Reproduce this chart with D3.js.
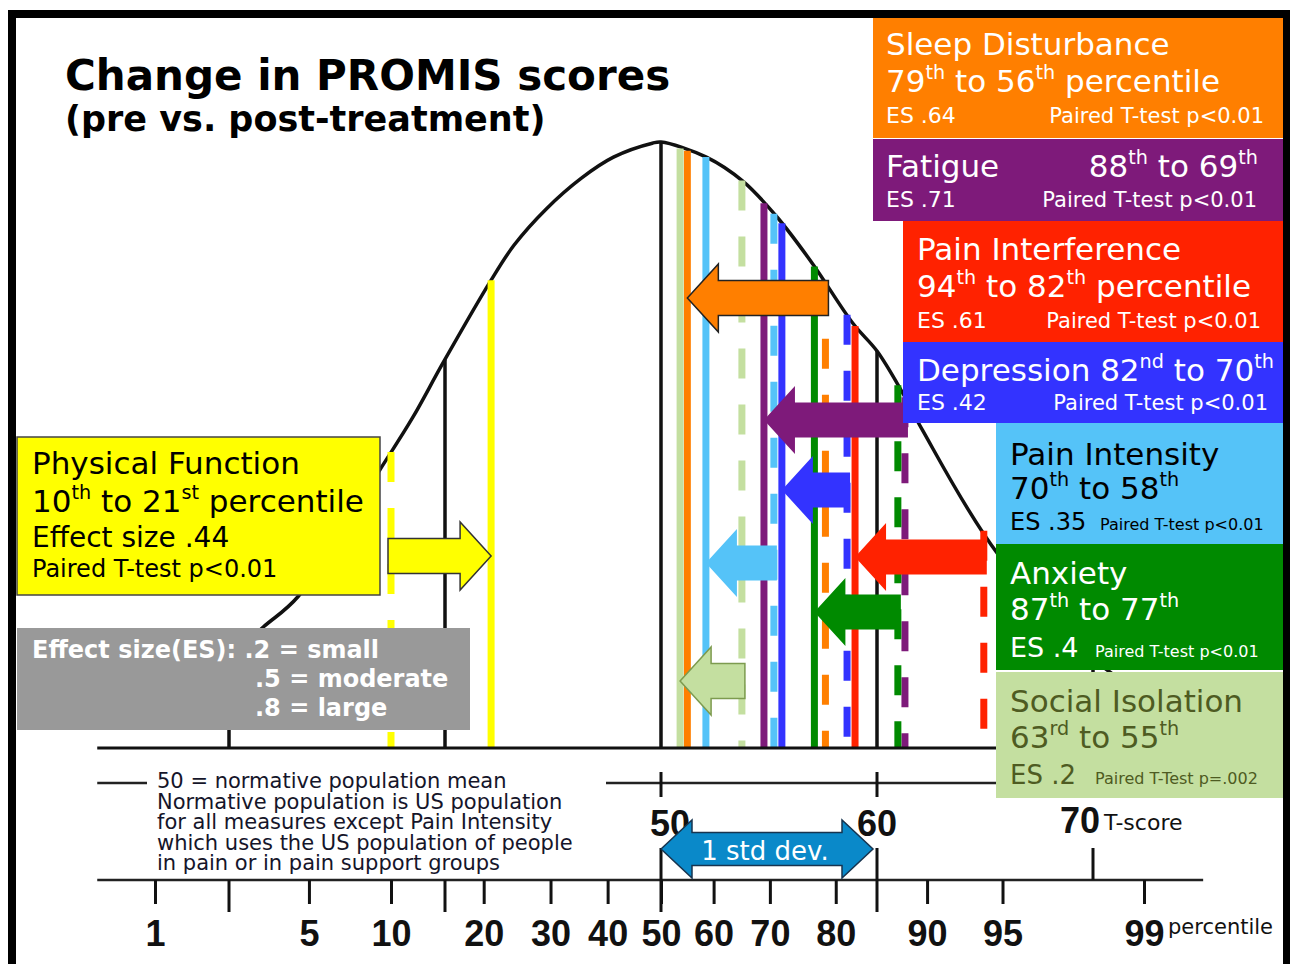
<!DOCTYPE html>
<html>
<head>
<meta charset="utf-8">
<script src="https://cdn.jsdelivr.net/npm/d3@7"></script>
<style>
  body { margin: 0; background: #fff; }
  svg { display: block; }
</style>
</head>
<body>
<div id="chart"></div>
<script>
// ---- data ----
const measures = ["Sleep Disturbance", "Fatigue", "Pain Interference", "Depression",
                  "Pain Intensity", "Anxiety", "Social Isolation", "Physical Function"];
const prePct  = [79, 88, 94, 82, 70, 87, 63, 10];
const postPct = [56, 69, 82, 70, 58, 77, 55, 21];
// suffixes exactly as printed in the boxes
const preSuffix  = ["th", "th", "th", "nd", "th", "th", "rd", "th"];
const postSuffix = ["th", "th", "th", "th", "th", "th", "th", "st"];
const effectSizes = [".64", ".71", ".61", ".42", ".35", ".4", ".2", ".44"];
const esWords = ["ES", "ES", "ES", "ES", "ES", "ES", "ES", "Effect size"];
const pTests = ["Paired T-test p<0.01", "Paired T-test p<0.01", "Paired T-test p<0.01",
                "Paired T-test p<0.01", "Paired T-test p<0.01", "Paired T-test p<0.01",
                "Paired T-Test p=.002", "Paired T-test p<0.01"];
const colors = ["#FF7F00", "#7E1A7A", "#FF2200", "#3333FF", "#55C3F8", "#008A00", "#C4DFA0", "#FFFF00"];

// bell curve as drawn: T-score and height relative to the peak
const curveT = [24, 27, 30, 31.6, 33.2, 37.0, 38.5, 39.9, 42.1, 43.2, 44.7, 46.3, 47.8, 49.6, 50,
                52.1, 53.8, 55.4, 57.0, 58.9, 60.0, 61.2, 62.1, 65.6, 70.6, 74, 78];
const curveH = [0.04, 0.09, 0.15, 0.20, 0.25, 0.46, 0.545, 0.635, 0.77, 0.83, 0.89, 0.94, 0.975, 0.998, 1.0,
                0.975, 0.935, 0.875, 0.80, 0.70, 0.655, 0.585, 0.525, 0.32, 0.13, 0.06, 0.025];

const pctTicks = [1, 5, 10, 20, 30, 40, 50, 60, 70, 80, 90, 95, 99];
const tRefLines = [30, 40, 50, 60, 70];
const tLabels = [50, 60, 70];
const esLevels = [".2", ".5", ".8"];
const esNames = ["small", "moderate", "large"];
const noteLines = ["50 = normative population mean",
                   "Normative population is US population",
                   "for all measures except Pain Intensity",
                   "which uses the US population of people",
                   "in pain or in pain support groups"];

// ---- layout ----
const W = 1290, H = 964;
const arrowCy = [298, 420, 557, 490, 563, 612, 681, 556];
// hand placement of the lines in the original (px offsets)
const preShift  = [-3, 0, 0, -4, 4, 3, 12, 0];
const postShift = [-5, 0, 4, 12, 3, 0, -7, 0];
const arrowStroke = ["#222", null, null, null, null, null, "#7D9B4F", "#333"];
const tLabelDx = [9, 0, -13];

const svg = d3.select("#chart").append("svg")
    .attr("width", W).attr("height", H)
    .style("font-family", "'DejaVu Sans', Verdana, sans-serif");

// inverse normal CDF (Acklam)
function probit(p) {
    const a = [-39.69683028665376, 220.9460984245205, -275.9285104469687, 138.3577518672690, -30.66479806614716, 2.506628277459239];
    const b = [-54.47609879822406, 161.5858368580409, -155.6989798598866, 66.80131188771972, -13.28068155288572];
    const c = [-0.007784894002430293, -0.3223964580411365, -2.400758277161838, -2.549732539343734, 4.374664141464968, 2.938163982698783];
    const d = [0.007784695709041462, 0.3224671290700398, 2.445134137142996, 3.754408661907416];
    const lo = 0.02425;
    if (p < lo) {
        const q = Math.sqrt(-2 * Math.log(p));
        return (((((c[0]*q+c[1])*q+c[2])*q+c[3])*q+c[4])*q+c[5]) / ((((d[0]*q+d[1])*q+d[2])*q+d[3])*q+1);
    }
    if (p > 1 - lo) {
        const q = Math.sqrt(-2 * Math.log(1 - p));
        return -(((((c[0]*q+c[1])*q+c[2])*q+c[3])*q+c[4])*q+c[5]) / ((((d[0]*q+d[1])*q+d[2])*q+d[3])*q+1);
    }
    const q = p - 0.5, r = q * q;
    return (((((a[0]*r+a[1])*r+a[2])*r+a[3])*r+a[4])*r+a[5])*q / (((((b[0]*r+b[1])*r+b[2])*r+b[3])*r+b[4])*r+1);
}

// scales
const tScale = d3.scaleLinear().domain([50, 60]).range([661, 877]);
// the hand-drawn percentile axis
const zScale = d3.scaleLinear()
    .domain([probit(0.01), probit(0.10), 0, probit(0.99)])
    .range([155, 391, 661, 1144]);
const pctX = p => zScale(probit(p / 100));
const yScale = d3.scaleLinear().domain([0, 1]).range([748, 142]);
const curveAt = d3.scaleLinear().domain(curveT).range(curveH).clamp(true);
const topAtX = x => yScale(curveAt(tScale.invert(x)));

// ---- title ----
svg.append("text").attr("x", 65).attr("y", 90)
    .attr("font-size", 42).attr("font-weight", "bold").text("Change in PROMIS scores");
svg.append("text").attr("x", 65).attr("y", 131)
    .attr("font-size", 35).attr("font-weight", "bold").text("(pre vs. post-treatment)");

// ---- bell curve ----
const curvePts = curveT.map((t, i) => [t, curveH[i]]);
svg.append("path")
    .datum(curvePts)
    .attr("fill", "none").attr("stroke", "#111").attr("stroke-width", 3.5)
    .attr("d", d3.line().x(d => tScale(d[0])).y(d => yScale(d[1])).curve(d3.curveCatmullRom));

// black reference lines at T-scores
svg.append("g").selectAll("line")
    .data(tRefLines)
    .join("line")
    .attr("x1", d => tScale(d)).attr("x2", d => tScale(d))
    .attr("y1", d => yScale(curveAt(d))).attr("y2", yScale(0))
    .attr("stroke", "#111").attr("stroke-width", 3.5);

// ---- colored pre (dashed) / post (solid) lines ----
const lineData = [];
measures.forEach((m, i) => {
    lineData.push({i, x: pctX(prePct[i]) + preShift[i], dashed: true});
    lineData.push({i, x: pctX(postPct[i]) + postShift[i], dashed: false});
});
svg.append("g").selectAll("line")
    .data(lineData)
    .join("line")
    .attr("x1", d => d.x).attr("x2", d => d.x)
    .attr("y1", d => topAtX(d.x)).attr("y2", yScale(0))
    .attr("stroke", d => colors[d.i]).attr("stroke-width", 7)
    .attr("stroke-dasharray", d => d.dashed ? "30,26" : null);

// baseline of the curve
svg.append("line")
    .attr("x1", tScale(23.9)).attr("x2", tScale(74.9))
    .attr("y1", yScale(0)).attr("y2", yScale(0))
    .attr("stroke", "#111").attr("stroke-width", 3);

// ---- arrows from pre to post ----
function arrowPath(x0, x1, cy, shaft, head, len) {
    const dir = x1 < x0 ? -1 : 1, hb = x1 - dir * len;
    return `M${x0},${cy - shaft / 2}L${hb},${cy - shaft / 2}L${hb},${cy - head / 2}L${x1},${cy}` +
           `L${hb},${cy + head / 2}L${hb},${cy + shaft / 2}L${x0},${cy + shaft / 2}Z`;
}
svg.append("g").selectAll("path")
    .data(measures.map((m, i) => i))
    .join("path")
    .attr("d", i => {
        const dir = postPct[i] < prePct[i] ? 1 : -1;
        return arrowPath(pctX(prePct[i]) + preShift[i] + 3 * dir, pctX(postPct[i]) + postShift[i],
                         arrowCy[i], 35, 68, 31);
    })
    .attr("fill", i => colors[i])
    .attr("stroke", i => arrowStroke[i] || "none")
    .attr("stroke-width", 1.5);

// ---- T-score axis ----
const tAxisY = 783;
svg.append("line")
    .attr("x1", tScale(23.9)).attr("x2", tScale(74.9))
    .attr("y1", tAxisY).attr("y2", tAxisY)
    .attr("stroke", "#222").attr("stroke-width", 2.5);
svg.append("g").selectAll("line")
    .data([50, 60])
    .join("line")
    .attr("x1", d => tScale(d)).attr("x2", d => tScale(d))
    .attr("y1", tAxisY - 11).attr("y2", tAxisY + 14)
    .attr("stroke", "#111").attr("stroke-width", 3);

// ---- percentile axis ----
const pAxisY = 880;
svg.append("line")
    .attr("x1", tScale(23.9)).attr("x2", tScale(75.1))
    .attr("y1", pAxisY).attr("y2", pAxisY)
    .attr("stroke", "#222").attr("stroke-width", 2.5);
const pAxis = d3.axisBottom(zScale)
    .tickValues(pctTicks.map(p => probit(p / 100)))
    .tickFormat((d, i) => pctTicks[i])
    .tickSize(24).tickPadding(0);
const pAxisG = svg.append("g").attr("transform", `translate(0,${pAxisY})`).call(pAxis);
pAxisG.select(".domain").remove();
pAxisG.selectAll(".tick line").attr("stroke", "#111").attr("stroke-width", 3);
pAxisG.selectAll(".tick text")
    .attr("y", 66).attr("dy", 0)
    .attr("fill", "#111")
    .style("font-family", "'Liberation Sans Narrow', 'Liberation Sans', Arial, sans-serif")
    .style("font-size", "36px").style("font-weight", "bold");

// T-score ticks on the percentile line
svg.append("g").selectAll("line")
    .data([30, 40, 50, 60])
    .join("line")
    .attr("x1", d => tScale(d)).attr("x2", d => tScale(d))
    .attr("y1", pAxisY).attr("y2", pAxisY + 32)
    .attr("stroke", "#111").attr("stroke-width", 3);
svg.append("g").selectAll("line")
    .data([50, 60, 70])
    .join("line")
    .attr("x1", d => tScale(d)).attr("x2", d => tScale(d))
    .attr("y1", pAxisY - 32).attr("y2", pAxisY)
    .attr("stroke", "#111").attr("stroke-width", 3);

// T-score labels
svg.append("g").selectAll("text")
    .data(tLabels)
    .join("text")
    .attr("x", (d, i) => tScale(d) + tLabelDx[i]).attr("y", (d, i) => i === 2 ? 833 : 836)
    .attr("text-anchor", "middle")
    .style("font-family", "'Liberation Sans Narrow', 'Liberation Sans', Arial, sans-serif")
    .style("font-size", "36px").style("font-weight", "bold")
    .attr("fill", "#111")
    .text(d => d);
svg.append("text").attr("x", tScale(70) + 11).attr("y", 830)
    .attr("font-size", 22).attr("fill", "#111").text("T-score");
svg.append("text").attr("x", pctX(99) + 24).attr("y", 934)
    .attr("font-size", 21).attr("fill", "#111").text("percentile");

// 1 std dev double arrow
(function () {
    const x0 = tScale(50), x1 = tScale(60) - 4, cy = 849, sh = 33, hh = 58, len = 31;
    const d = `M${x0},${cy}L${x0 + len},${cy - hh / 2}L${x0 + len},${cy - sh / 2}L${x1 - len},${cy - sh / 2}` +
              `L${x1 - len},${cy - hh / 2}L${x1},${cy}L${x1 - len},${cy + hh / 2}L${x1 - len},${cy + sh / 2}` +
              `L${x0 + len},${cy + sh / 2}L${x0 + len},${cy + hh / 2}Z`;
    svg.append("path").attr("d", d).attr("fill", "#0A89C9").attr("stroke", "#17344F").attr("stroke-width", 1.5);
    svg.append("text").attr("x", (x0 + x1) / 2 - 2).attr("y", cy + 11)
        .attr("text-anchor", "middle").attr("font-size", 26).attr("fill", "#fff")
        .text("1 std dev.");
})();

// ---- note text ----
const noteG = svg.append("g");
noteG.append("rect").attr("x", 147).attr("y", 757).attr("width", 459).attr("height", 118).attr("fill", "#fff");
noteG.append("text")
    .attr("font-size", 21).attr("fill", "#15152a")
    .selectAll("tspan")
    .data(noteLines)
    .join("tspan")
    .attr("x", 157).attr("y", (d, i) => 788 + i * 20.5)
    .text(d => d);

// ---- measure boxes ----
function addRich(g, parts, x, y, size, anchor, fill) {
    const t = g.append("text").attr("x", x).attr("y", y).attr("font-size", size)
        .attr("fill", fill).attr("text-anchor", anchor || "start");
    let raised = false;
    parts.forEach(([s, sup]) => {
        const ts = t.append("tspan").text(s);
        if (sup) {
            ts.attr("font-size", size * 0.62);
            if (!raised) { ts.attr("dy", -size * 0.42); raised = true; }
        } else if (raised) {
            ts.attr("dy", size * 0.42); raised = false;
        }
    });
}
const rangeParts = (i, pct) => {
    const p = [[String(prePct[i])], [preSuffix[i], true], [" to "], [String(postPct[i])], [postSuffix[i], true]];
    if (pct) p.push([" percentile"]);
    return p;
};

const boxes = [
    {i: 0, x0: 873, y0: 18, x1: 1283, y1: 138, ink: "#fff", lines: [
        {k: "name", x: 886, y: 55, s: 31}, {k: "range", pct: true, x: 886, y: 92, s: 31},
        {k: "es", x: 886, y: 123, s: 22}, {k: "p", x: 1264, y: 123, s: 21, a: "end"}]},
    {i: 1, x0: 873, y0: 139, x1: 1283, y1: 221, ink: "#fff", lines: [
        {k: "name", x: 886, y: 177, s: 31}, {k: "range", x: 1258, y: 177, s: 31, a: "end"},
        {k: "es", x: 886, y: 207, s: 22}, {k: "p", x: 1257, y: 207, s: 21, a: "end"}]},
    {i: 2, x0: 903, y0: 221, x1: 1283, y1: 342, ink: "#fff", lines: [
        {k: "name", x: 917, y: 260, s: 31}, {k: "range", pct: true, x: 917, y: 297, s: 31},
        {k: "es", x: 917, y: 328, s: 22}, {k: "p", x: 1261, y: 328, s: 21, a: "end"}]},
    {i: 3, x0: 903, y0: 342, x1: 1283, y1: 423, ink: "#fff", lines: [
        {k: "nameRange", x: 917, y: 381, s: 31},
        {k: "es", x: 917, y: 410, s: 22}, {k: "p", x: 1268, y: 410, s: 21, a: "end"}]},
    {i: 4, x0: 996, y0: 423, x1: 1283, y1: 544, ink: "#000", lines: [
        {k: "name", x: 1010, y: 465, s: 31}, {k: "range", x: 1010, y: 499, s: 31},
        {k: "es", x: 1010, y: 530, s: 24}, {k: "p", x: 1100, y: 530, s: 16}]},
    {i: 5, x0: 996, y0: 544, x1: 1283, y1: 670, ink: "#fff", lines: [
        {k: "name", x: 1010, y: 584, s: 31}, {k: "range", x: 1010, y: 620, s: 31},
        {k: "es", x: 1010, y: 657, s: 27}, {k: "p", x: 1095, y: 657, s: 16}]},
    {i: 6, x0: 996, y0: 672, x1: 1283, y1: 798, ink: "#4E5B22", lines: [
        {k: "name", x: 1010, y: 712, s: 31}, {k: "range", x: 1010, y: 748, s: 31},
        {k: "es", x: 1010, y: 784, s: 26}, {k: "p", x: 1095, y: 784, s: 16}]},
    {i: 7, x0: 17, y0: 437, x1: 380, y1: 595, ink: "#000", stroke: "#444", lines: [
        {k: "name", x: 32, y: 474, s: 31}, {k: "range", pct: true, x: 32, y: 512, s: 31},
        {k: "es", x: 32, y: 547, s: 28}, {k: "p", x: 32, y: 577, s: 24}]}
];

boxes.forEach(b => {
    const g = svg.append("g");
    g.append("rect")
        .attr("x", b.x0).attr("y", b.y0).attr("width", b.x1 - b.x0).attr("height", b.y1 - b.y0)
        .attr("fill", colors[b.i])
        .attr("stroke", b.stroke || "none").attr("stroke-width", 1.5);
    b.lines.forEach(l => {
        let parts;
        if (l.k === "name") parts = [[measures[b.i]]];
        else if (l.k === "range") parts = rangeParts(b.i, l.pct);
        else if (l.k === "nameRange") parts = [[measures[b.i] + " "]].concat(rangeParts(b.i, false));
        else if (l.k === "es") parts = [[esWords[b.i] + " " + effectSizes[b.i]]];
        else parts = [[pTests[b.i]]];
        addRich(g, parts, l.x, l.y, l.s, l.a, b.ink);
    });
});

// ---- effect size legend ----
const esG = svg.append("g");
esG.append("rect").attr("x", 17).attr("y", 628).attr("width", 453).attr("height", 102).attr("fill", "#999999");
esG.selectAll("text")
    .data(esLevels)
    .join("text")
    .attr("x", (d, i) => i === 0 ? 32 : 255).attr("y", (d, i) => 658 + i * 29)
    .attr("font-size", 24).attr("font-weight", "bold").attr("fill", "#fff")
    .text((d, i) => `${i === 0 ? "Effect size(ES): " : ""}${d} = ${esNames[i]}`);

// ---- frame ----
svg.append("rect").attr("x", 8).attr("y", 10).attr("width", W - 8).attr("height", 8).attr("fill", "#000");
svg.append("rect").attr("x", 8).attr("y", 10).attr("width", 8).attr("height", H - 10).attr("fill", "#000");
svg.append("rect").attr("x", 1283).attr("y", 10).attr("width", 7).attr("height", H - 10).attr("fill", "#000");
</script>
</body>
</html>
